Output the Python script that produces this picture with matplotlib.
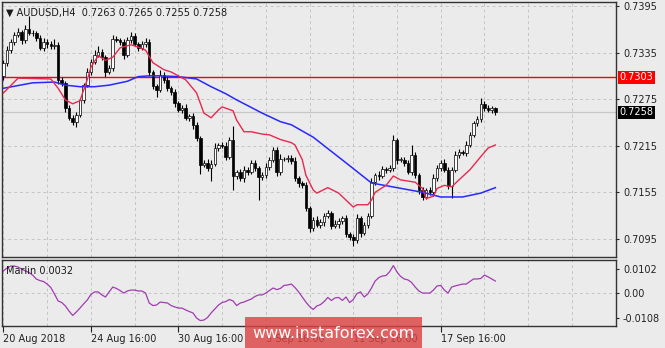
import matplotlib.pyplot as plt
from matplotlib.patches import Rectangle

plt.rcParams['font.family'] = ['DejaVu Sans']

# ---------------- data (AUDUSD H4) ----------------
first_open = 0.7305
closes = [
    0.7322, 0.7338, 0.7349, 0.7358, 0.7361, 0.7351, 0.7365, 0.7360, 0.7360, 0.7354,
    0.7341, 0.7349, 0.7346, 0.7343, 0.7345, 0.7300, 0.7296, 0.7264, 0.7251, 0.7246,
    0.7255, 0.7274, 0.7293, 0.7310, 0.7323, 0.7332, 0.7336, 0.7329, 0.7310, 0.7315,
    0.7352, 0.7351, 0.7349, 0.7332, 0.7351, 0.7356, 0.7346, 0.7341, 0.7346, 0.7349,
    0.7310, 0.7292, 0.7287, 0.7306, 0.7300, 0.7289, 0.7284, 0.7270, 0.7261, 0.7264,
    0.7251, 0.7253, 0.7242, 0.7225, 0.7190, 0.7193, 0.7186, 0.7192, 0.7212, 0.7216,
    0.7215, 0.7201, 0.7222, 0.7176, 0.7181, 0.7173, 0.7184, 0.7181, 0.7193, 0.7186,
    0.7175, 0.7177, 0.7188, 0.7197, 0.7210, 0.7181, 0.7198, 0.7198, 0.7199, 0.7195,
    0.7173, 0.7167, 0.7164, 0.7135, 0.7109, 0.7119, 0.7113, 0.7117, 0.7125, 0.7128,
    0.7112, 0.7114, 0.7118, 0.7122, 0.7101, 0.7097, 0.7094, 0.7122, 0.7103, 0.7113,
    0.7125, 0.7168, 0.7177, 0.7176, 0.7185, 0.7184, 0.7186, 0.7222, 0.7197, 0.7197,
    0.7193, 0.7181, 0.7203, 0.7177, 0.7158, 0.7149, 0.7158, 0.7155, 0.7173, 0.7186,
    0.7193, 0.7184, 0.7163, 0.7184, 0.7203, 0.7207, 0.7206, 0.7216, 0.7229, 0.7244,
    0.7249, 0.7269, 0.7264, 0.7261, 0.7263, 0.7258]

# wick lengths in pips above / below the body
wick_up = [
    3, 5, 4, 4, 6, 3, 5, 17, 4, 3, 4, 5, 3, 4, 8, 3, 4, 3, 3, 4,
    4, 3, 3, 5, 4, 6, 8, 3, 3, 4, 5, 4, 3, 4, 4, 5, 4, 3, 4, 5,
    4, 3, 3, 6, 4, 5, 3, 4, 3, 4, 5, 3, 4, 3, 3, 4, 5, 4, 6, 3,
    4, 5, 4, 18, 3, 4, 5, 3, 4, 3, 3, 4, 5, 3, 4, 3, 6, 3, 4, 4,
    5, 3, 3, 4, 3, 4, 5, 3, 4, 4, 3, 5, 4, 3, 4, 3, 4, 5, 3, 4,
    4, 6, 3, 5, 4, 3, 4, 7, 3, 4, 4, 3, 13, 4, 3, 4, 3, 4, 5, 4,
    3, 5, 3, 4, 5, 4, 3, 5, 4, 3, 4, 7, 3, 4, 3, 2]
wick_dn = [
    5, 4, 3, 4, 3, 5, 4, 3, 4, 4, 3, 4, 5, 3, 4, 6, 4, 5, 3, 4,
    7, 3, 4, 3, 4, 3, 3, 4, 6, 3, 4, 3, 4, 5, 3, 4, 3, 4, 3, 4,
    5, 4, 9, 3, 4, 3, 4, 5, 3, 4, 3, 4, 5, 4, 12, 3, 4, 17, 3, 4,
    3, 4, 3, 18, 4, 3, 5, 4, 3, 3, 30, 4, 3, 4, 3, 5, 4, 3, 4, 3,
    4, 5, 3, 4, 5, 4, 3, 4, 5, 3, 4, 3, 5, 4, 3, 4, 8, 4, 5, 3,
    4, 3, 4, 5, 3, 4, 3, 4, 5, 3, 4, 3, 4, 3, 5, 4, 3, 4, 5, 3,
    4, 3, 4, 15, 3, 4, 3, 4, 3, 3, 4, 3, 4, 3, 4, 3]

# moving averages (bar index, value)
fast_idx = [0, 4, 13, 15, 17, 19, 21, 23, 24, 26, 28, 30, 32, 35, 37, 39, 41, 44, 46, 50,
            53, 55, 57, 59, 60, 63, 64, 66, 68, 71, 73, 76, 79, 80, 82, 83, 85, 86, 89, 92,
            94, 96, 97, 100, 101, 102, 105, 107, 109, 113, 115, 116, 118, 119, 121, 123,
            125, 128, 131, 133, 135]
fast_ma = [0.7283, 0.7302, 0.7301, 0.7289, 0.7274, 0.7269, 0.7273, 0.7300, 0.7316, 0.7331,
           0.7325, 0.7329, 0.7341, 0.7345, 0.7342, 0.7338, 0.7322, 0.7313, 0.7310, 0.7300,
           0.7283, 0.7257, 0.7251, 0.7261, 0.7265, 0.7260, 0.7248, 0.7233, 0.7233, 0.7230,
           0.7229, 0.7223, 0.7219, 0.7216, 0.7197, 0.7177, 0.7158, 0.7154, 0.7161, 0.7154,
           0.7145, 0.7136, 0.7139, 0.7139, 0.7145, 0.7155, 0.7164, 0.7176, 0.7171, 0.7168,
           0.7160, 0.7147, 0.7150, 0.7160, 0.7164, 0.7162, 0.7171, 0.7184, 0.7201, 0.7212,
           0.7216]
slow_idx = [0, 8, 14, 17, 21, 25, 29, 34, 37, 40, 43, 48, 53, 57, 61, 64, 71, 76, 79, 85,
            94, 101, 108, 115, 120, 126, 131, 135]
slow_ma = [0.7289, 0.7296, 0.7297, 0.7293, 0.7291, 0.7291, 0.7293, 0.7298, 0.7304, 0.7305,
           0.7305, 0.7304, 0.7301, 0.7291, 0.7282, 0.7274, 0.7257, 0.7246, 0.7242, 0.7226,
           0.7193, 0.7167, 0.7161, 0.7155, 0.7149, 0.7149, 0.7154, 0.7161]

# Marlin oscillator (lower window)
marlin = [
    0.0094, 0.0107, 0.0115, 0.0115, 0.0111, 0.0102, 0.0094, 0.0087, 0.0076, 0.0059,
    0.0052, 0.0048, 0.0037, 0.0022, -0.0006, -0.0036, -0.0043, -0.0058, -0.0080, -0.0099,
    -0.0084, -0.0067, -0.0049, -0.0032, -0.0008, 0.0003, 0.0003, -0.0010, -0.0019, 0.0003,
    0.0024, 0.0018, 0.0009, -0.0002, 0.0007, 0.0011, 0.0011, 0.0007, 0.0007, -0.0002,
    -0.0045, -0.0056, -0.0054, -0.0041, -0.0043, -0.0045, -0.0056, -0.0062, -0.0067, -0.0067,
    -0.0075, -0.0082, -0.0088, -0.0110, -0.0121, -0.0119, -0.0108, -0.0088, -0.0071, -0.0054,
    -0.0043, -0.0039, -0.0030, -0.0036, -0.0056, -0.0045, -0.0041, -0.0034, -0.0028, -0.0017,
    -0.0010, -0.0010, -0.0002, 0.0009, 0.0020, 0.0013, 0.0018, 0.0031, 0.0033, 0.0037,
    0.0022, 0.0003, -0.0019, -0.0041, -0.0060, -0.0073, -0.0058, -0.0052, -0.0039, -0.0021,
    -0.0034, -0.0023, -0.0021, -0.0034, -0.0019, -0.0043, -0.0030, -0.0004, 0.0003, -0.0019,
    -0.0006, 0.0020, 0.0050, 0.0065, 0.0072, 0.0074, 0.0091, 0.0117, 0.0089, 0.0070,
    0.0059, 0.0055, 0.0044, 0.0024, 0.0007, -0.0002, -0.0002, -0.0002, 0.0011, 0.0029,
    0.0031, 0.0011, -0.0002, 0.0024, 0.0029, 0.0033, 0.0037, 0.0037, 0.0048, 0.0059,
    0.0059, 0.0061, 0.0076, 0.0068, 0.0059, 0.0050]

header_ohlc = ['0.7263', '0.7265', '0.7255', '0.7258']
level_line = 0.7303
price_ticks = [0.7395, 0.7335, 0.7275, 0.7215, 0.7155, 0.7095]
osc_ticks = [0.0102, 0.0, -0.0108]
osc_labels = ['0.0102', '0.00', '-0.0108']
date_pos = [0, 24, 48, 72, 96, 120]
date_labels = ['20 Aug 2018', '24 Aug 16:00', '30 Aug 16:00', '5 Sep 16:00',
               '11 Sep 16:00', '17 Sep 16:00']

# ---------------- style ----------------
BG = '#ebebeb'
GRID = '#c4c4c4'
FRAME = '#333333'
PIP = 0.0001
XLIM = (-0.4, 168.1)

fig = plt.figure(figsize=(6.65, 3.48), dpi=100, facecolor=BG)
ax = fig.add_axes([2 / 665, 1 - 257 / 348, 614 / 665, 255 / 348])
ax2 = fig.add_axes([2 / 665, 1 - 326 / 348, 614 / 665, 66 / 348])

for a in (ax, ax2):
    a.set_facecolor(BG)
    for s in a.spines.values():
        s.set_color(FRAME)
        s.set_linewidth(1.0)
    a.set_xlim(*XLIM)
    for g in range(0, 170, 12):
        a.axvline(g, color=GRID, linestyle=(0, (3, 3)), linewidth=0.7, zorder=0)

# ---------------- candles ----------------
opens = [first_open] + closes[:-1]
idx = list(range(len(closes)))
for i, o, c, wu, wd in zip(idx, opens, closes, wick_up, wick_dn):
    top, bot = max(o, c), min(o, c)
    ax.vlines(i, bot - wd * PIP, top + wu * PIP, color='black', linewidth=0.8, zorder=3)
    h = max(top - bot, 0.00003)
    face = 'white' if c >= o else 'black'
    ax.bar(i, h, bottom=bot, width=0.7, color=face, edgecolor='black',
           linewidth=0.5, zorder=4)

ax.plot(slow_idx, slow_ma, color='#2828ff', linewidth=1.1, zorder=5)
ax.plot(fast_idx, fast_ma, color='#e8284e', linewidth=1.0, zorder=5)
ax.axhline(level_line, color='#ff0000', linewidth=1.0, zorder=2)
ax.axhline(closes[-1], color='#c6c6c6', linewidth=0.9, zorder=1)

ax.set_ylim(0.70717, 0.74001)
ax.set_yticks(price_ticks)
ax.set_yticklabels([f'{p:.4f}' for p in price_ticks])
ax.yaxis.tick_right()
ax.tick_params(axis='y', direction='out', length=2.5, width=0.8, pad=2.5,
               labelsize=7, colors='#222222')
ax.set_xticks([])
ax.grid(True, axis='y', color=GRID, linestyle=(0, (3, 3)), linewidth=0.7)
ax.set_axisbelow(True)

tr = ax.get_yaxis_transform()
ax.text(1.006, level_line, f'{level_line:.4f}', transform=tr, fontsize=7, color='white',
        va='center', ha='left',
        bbox=dict(boxstyle='square,pad=0.15', fc='#ff0000', ec='none'))
ax.text(1.006, closes[-1], f'{closes[-1]:.4f}', transform=tr, fontsize=7, color='white',
        va='center', ha='left',
        bbox=dict(boxstyle='square,pad=0.15', fc='black', ec='none'))

ax.text(0.006, 0.958, '\u25BC AUDUSD,H4  ' + ' '.join(header_ohlc), transform=ax.transAxes,
        fontsize=7, color='#1a1a1a', va='center', ha='left')

# ---------------- oscillator ----------------
ax2.plot(idx, marlin, color='#a03cb0', linewidth=0.9)
ax2.axhline(0, color=GRID, linestyle=(0, (3, 3)), linewidth=0.7, zorder=0)
ax2.set_ylim(-0.01446, 0.01412)
ax2.set_yticks(osc_ticks)
ax2.set_yticklabels(osc_labels)
ax2.yaxis.tick_right()
ax2.tick_params(axis='y', direction='out', length=2.5, width=0.8, pad=2.5,
                labelsize=7, colors='#222222')
ax2.set_xticks(date_pos)
ax2.set_xticklabels(date_labels)
for lbl in ax2.get_xticklabels():
    lbl.set_ha('left')
ax2.tick_params(axis='x', direction='out', length=4, width=0.8, pad=2,
                labelsize=7, colors='#222222')
ax2.text(0.007, 0.84, 'Marlin 0.0032', transform=ax2.transAxes, fontsize=7,
         color='#1a1a1a', va='center', ha='left')

# ---------------- watermark ----------------
fig.add_artist(Rectangle((245 / 665, 0), 177 / 665, 31 / 348, transform=fig.transFigure,
                         facecolor='#dd4444', alpha=0.82, edgecolor='none', zorder=10))
fig.text(333 / 665, 15 / 348, 'www.instaforex.com', color='white', fontsize=11.5,
         ha='center', va='center', zorder=11)

fig.savefig('out.png', dpi=100, facecolor=BG)
